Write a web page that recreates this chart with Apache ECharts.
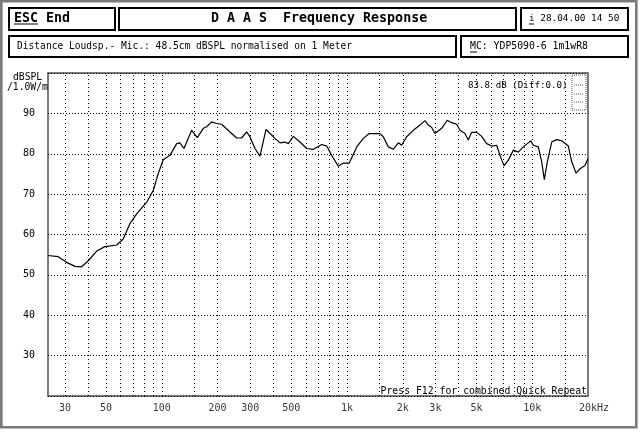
<!DOCTYPE html>
<html>
<head>
<meta charset="utf-8">
<script src="https://cdn.jsdelivr.net/npm/echarts@6/dist/echarts.min.js"></script>
<style>
html,body{margin:0;padding:0;background:#fff;}
#chart{width:641px;height:432px;}
</style>
</head>
<body>
<div id="chart"></div>
<script>
// ---- data ----
const freqHz = [24.3, 27.6, 30.6, 34.0, 36.9, 40.1, 44.5, 49.3, 57.1, 61.9,
  67.3, 73.2, 82.9, 89.9, 95.7, 101.8, 110.7, 120.3, 125.3, 131.7,
  145.0, 155.5, 167.5, 174.7, 185.9, 197.8, 210.5, 233.4, 253.7, 269.9,
  287.2, 299.2, 318.4, 338.8, 365.1, 408.3, 434.6, 462.4, 481.9, 512.8,
  557.2, 605.7, 657.4, 729.8, 776.5, 826.3, 897.3, 954.7, 1028, 1128,
  1224, 1319, 1359, 1507, 1570, 1670, 1778, 1892, 1973, 2099,
  2280, 2477, 2636, 2747, 2865, 2985, 3244, 3477, 3673, 3909,
  4073, 4334, 4515, 4710, 5012, 5334, 5676, 6041, 6428, 6698,
  7038, 7424, 7901, 8408, 8948, 9522, 9812, 10135, 10783, 11250,
  11619, 12060, 12738, 13556, 14425, 15661, 16335, 17231, 18109, 19270, 20000];
const splDb = [54.8, 54.5, 53.1, 52.1, 52.0, 53.5, 55.9, 57.0, 57.4, 58.9,
  62.7, 65.1, 68.0, 70.9, 75.1, 78.5, 79.6, 82.5, 82.7, 81.3,
  85.8, 84.0, 86.3, 86.7, 87.9, 87.5, 87.3, 85.4, 83.9, 83.9,
  85.4, 84.2, 81.3, 79.4, 86.0, 83.8, 82.7, 82.9, 82.5, 84.3,
  82.9, 81.3, 81.1, 82.3, 81.9, 79.6, 76.9, 77.7, 77.7, 81.7,
  83.8, 85.0, 85.0, 85.0, 84.2, 81.7, 81.1, 82.7, 82.1, 84.2,
  85.8, 87.1, 88.2, 87.1, 86.5, 85.0, 86.3, 88.3, 87.7, 87.3,
  85.8, 85.0, 83.4, 85.3, 85.3, 84.3, 82.5, 81.9, 82.1, 79.6,
  77.0, 78.4, 80.9, 80.4, 81.7, 82.7, 83.2, 82.1, 81.7, 78.0,
  73.6, 78.0, 82.9, 83.5, 83.2, 81.9, 78.0, 75.2, 76.3, 77.1, 78.8];
const gridFreqs = [30, 40, 50, 60, 70, 80, 90, 100, 150, 200, 300, 400, 500, 600, 700, 800, 900,
  1000, 1500, 2000, 3000, 4000, 5000, 6000, 7000, 8000, 9000, 10000, 15000];
const xTickFreqs = [30, 50, 100, 200, 300, 500, 1000, 2000, 3000, 5000, 10000, 20000];
const xTickLabels = ['30', '50', '100', '200', '300', '500', '1k', '2k', '3k', '5k', '10k', '20kHz'];
const yTickLabels = ['30', '40', '50', '60', '70', '80', '90'];
const xMin = 24.3, xMax = 20000, yMin = 20, yMax = 100;

const MONO = "'DejaVu Sans Mono', 'Liberation Mono', monospace";
const chart = echarts.init(document.getElementById('chart'), null, {renderer: 'canvas'});

const gray = '#7a7a7a';
function txt(text, x, y, size, bold, align) {
  return {type: 'text', z: 10, style: {text: text, x: x, y: y,
    font: (bold ? 'bold ' : '') + size + 'px ' + MONO, fill: '#000',
    textAlign: align || 'left', textVerticalAlign: 'middle'}};
}
function box(x1, y1, x2, y2) {
  return {type: 'rect', z: 5, shape: {x: x1, y: y1, width: x2 - x1, height: y2 - y1},
    style: {fill: null, stroke: '#000', lineWidth: 2}};
}
function uline(x1, x2, y) {
  return {type: 'line', z: 10, shape: {x1: x1, y1: y, x2: x2, y2: y}, style: {stroke: '#000', lineWidth: 1}};
}

const graphics = [
  {type: 'rect', z: 1, shape: {x: 1.3, y: 1.2, width: 635, height: 426}, style: {fill: null, stroke: gray, lineWidth: 2.6}},
  box(9, 8, 115, 30), box(119, 8, 516, 30), box(521, 8, 628, 30),
  box(9, 36, 456, 57), box(461, 36, 628, 57),
  txt('ESC End', 14, 19, 13.3, true), uline(14, 38, 24),
  txt('D A A S  Frequency Response', 211, 19, 13.3, true),
  txt('i 28.04.00 14 50', 529, 19, 9.4, false), uline(529, 534, 24),
  txt('Distance Loudsp.- Mic.: 48.5cm dBSPL normalised on 1 Meter', 17, 46.5, 9.6, false),
  txt('MC: YDP5090-6 1m1wR8', 470, 46.5, 9.8, false), uline(470, 477, 52),
  txt('dBSPL', 13, 77, 9.7, false),
  txt('/1.0W/m', 7, 87, 9.7, false),
  txt('83.8 dB (Diff:0.0)', 468, 85.5, 9.2, false),
  txt('Press F12 for combined Quick Repeat', 587, 391, 9.8, false, 'right'),
  {type: 'rect', z: 6, shape: {x: 572, y: 75, width: 14, height: 35},
    style: {fill: null, stroke: '#555', lineWidth: 1, lineDash: [1, 1]}},
  {type: 'line', z: 6, shape: {x1: 574, y1: 85, x2: 584, y2: 85}, style: {stroke: '#555', lineWidth: 1, lineDash: [1, 1]}},
  {type: 'line', z: 6, shape: {x1: 574, y1: 94, x2: 584, y2: 94}, style: {stroke: '#555', lineWidth: 1, lineDash: [1, 1]}},
  {type: 'line', z: 6, shape: {x1: 574, y1: 102, x2: 584, y2: 102}, style: {stroke: '#555', lineWidth: 1, lineDash: [1, 1]}}
];

const option = {
  animation: false,
  backgroundColor: '#fff',
  grid: {left: 48, right: 53, top: 73, bottom: 36, show: true, borderColor: gray, borderWidth: 2, backgroundColor: 'transparent'},
  xAxis: {type: 'log', logBase: 10, min: xMin, max: xMax,
    axisLine: {show: false}, axisTick: {show: false}, axisLabel: {show: false},
    splitLine: {show: false}, minorSplitLine: {show: false}},
  yAxis: {type: 'value', min: yMin, max: yMax, interval: 10,
    axisLine: {show: false}, axisTick: {show: false},
    axisLabel: {margin: 13, color: '#000', fontFamily: MONO, fontSize: 10,
      formatter: function (v) { const s = String(v); return yTickLabels.indexOf(s) >= 0 ? s : ''; }},
    splitLine: {show: true, lineStyle: {color: '#000', width: 1, type: [1, 2]}}},
  graphic: graphics,
  series: [
    {type: 'line', name: 'SPL', data: freqHz.map((f, i) => [f, splDb[i]]),
      showSymbol: false, symbol: 'none', smooth: false, clip: true, z: 4,
      lineStyle: {color: '#000', width: 1.2},
      markLine: {silent: true, symbol: 'none', label: {show: false}, animation: false,
        lineStyle: {color: '#000', width: 1, type: [1, 3]},
        data: gridFreqs.map(f => ({xAxis: f}))}},
    {type: 'scatter', name: 'xlabels', symbolSize: 1, clip: false, silent: true,
      itemStyle: {color: 'rgba(0,0,0,0)'},
      data: xTickFreqs.map((f, i) => ({value: [f, yMin],
        label: {show: true, position: 'bottom', distance: 7, color: '#000', fontFamily: MONO, fontSize: 10,
          formatter: xTickLabels[i], offset: [i === xTickFreqs.length - 1 ? 6 : 0, 0]}}))}
  ]
};
chart.setOption(option);
</script>
</body>
</html>
